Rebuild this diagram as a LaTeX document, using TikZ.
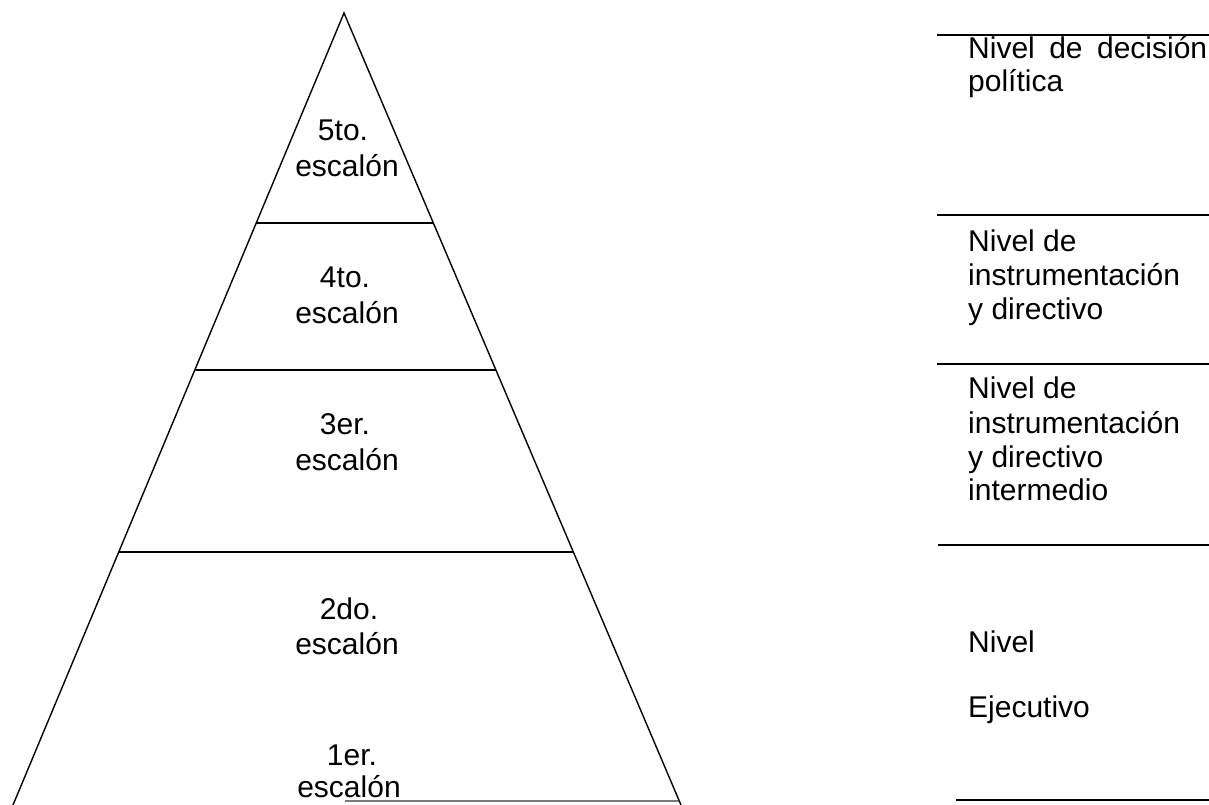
\documentclass[tikz,border=0pt]{standalone}
\usepackage{fontspec}
\setmainfont{Liberation Sans}
\usetikzlibrary{calc}
\begin{document}
\begin{tikzpicture}[x=1pt,y=-1pt,
  edge/.style={line width=1.4pt,black},
  sep/.style={line width=1.4pt,black},
  rule/.style={line width=1.9pt,black},
  plab/.style={font=\fontsize{30}{36}\selectfont,anchor=base,inner sep=0pt},
  rlab/.style={font=\fontsize{30}{36}\selectfont,anchor=base west,inner sep=0pt}]
\useasboundingbox (0,0) rectangle (1209,805);
% pyramid
\coordinate (apex) at (344,13);
\coordinate (bl) at (13,805);
\coordinate (br) at (681,805);
\draw[edge,line join=miter] (bl) -- (apex) -- (br);
\coordinate (l1) at ($(apex)!0.2652!(bl)$); \coordinate (r1) at ($(apex)!0.2652!(br)$);
\coordinate (l2) at ($(apex)!0.4508!(bl)$); \coordinate (r2) at ($(apex)!0.4508!(br)$);
\coordinate (l3) at ($(apex)!0.6806!(bl)$); \coordinate (r3) at ($(apex)!0.6806!(br)$);
\coordinate (r4) at ($(apex)!0.9949!(br)$);
\coordinate (m4) at (345,801);
\draw[sep] (l1) -- (r1);
\draw[sep] (l2) -- (r2);
\draw[sep] (l3) -- (r3);
\draw[line width=1.2pt,black!80] (m4) -- (r4);
\node[plab] (e5a) at (343,141) {5to.};
\node[plab] (e5b) at (347,177) {escalón};
\node[plab] (e4a) at (345,287) {4to.};
\node[plab] (e4b) at (347,323) {escalón};
\node[plab] (e3a) at (345,434) {3er.};
\node[plab] (e3b) at (347,470) {escalón};
\node[plab] (e2a) at (349,619) {2do.};
\node[plab] (e2b) at (347,654) {escalón};
\node[plab] (e1a) at (352,765) {1er.};
\node[plab] (e1b) at (349,797) {escalón};
% right column
\foreach \y/\x/\n in {35/937/a,215/937/b,364/937/c,545/938/d,800/956/e}{
  \coordinate (s\n) at (\x,\y); \coordinate (t\n) at (1209,\y);
  \draw[rule] (s\n) -- (t\n);
}
\node[rlab] (n1a) at (968,59) {\makebox[239pt][s]{Nivel de decisión}};
\node[rlab] (n1b) at (968,92) {política};
\node[rlab] (n2a) at (968,251) {Nivel de};
\node[rlab] (n2b) at (968,285) {instrumentación};
\node[rlab] (n2c) at (968,319) {y directivo};
\node[rlab] (n3a) at (968,398) {Nivel de};
\node[rlab] (n3b) at (968,433) {instrumentación};
\node[rlab] (n3c) at (968,467) {y directivo};
\node[rlab] (n3d) at (968,500) {intermedio};
\node[rlab] (n4) at (968,652) {Nivel};
\node[rlab] (n5) at (968,717) {Ejecutivo};
\end{tikzpicture}
\end{document}
